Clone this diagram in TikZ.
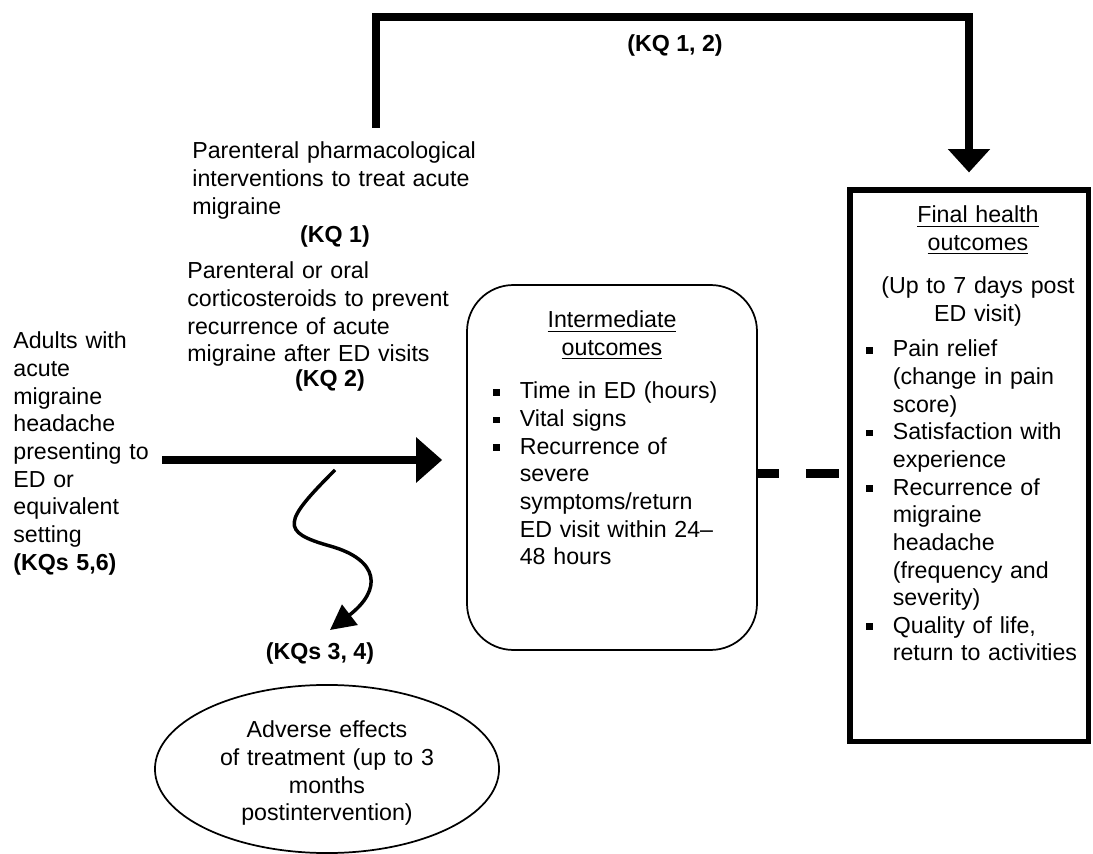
\documentclass[tikz,border=0pt]{standalone}
\usepackage{fontspec}
\setmainfont{Liberation Sans}
\usetikzlibrary{positioning, arrows.meta, shapes.geometric, calc}
\newcommand{\cfitem}[1]{%
  \hangindent=13.7pt\hangafter=1\noindent
  \makebox[13.7pt][l]{\rule[1.8pt]{3.4pt}{3.4pt}}#1\par}

\begin{document}
\begin{tikzpicture}[x=0.5176pt, y=-0.5176pt,
    txt/.style={inner sep=0pt, font=\fontsize{12pt}{14.3pt}\selectfont,
                align=left, text width=#1},
    kq/.style={inner sep=0pt, font=\fontsize{12pt}{14.3pt}\selectfont\bfseries,
               anchor=base},
    roundbox/.style={draw, rounded corners=24pt, line width=0.9pt,
                     minimum width=150.1pt, minimum height=188.9pt},
    finalbox/.style={draw, line width=2.6pt,
                     minimum width=123.2pt, minimum height=285.7pt},
    harmoval/.style={draw, ellipse, line width=0.9pt, inner sep=0pt,
                     minimum width=178.1pt, minimum height=87pt},
    thickarrow/.style={line width=4.6pt, -{Triangle[length=13.5pt, width=22.8pt]}},
    bracketarrow/.style={line width=4.2pt, -{Triangle[length=12pt, width=21pt]}},
    harmarrow/.style={line width=1.8pt, -{Triangle[length=13pt, width=13pt]}},
    dashlink/.style={line width=4.6pt,
                     dash pattern=on 10.9pt off 14pt on 17.1pt off 10pt}]
    \useasboundingbox (0,0) rectangle (1093,854);

    \node[txt=88pt, anchor=base west] (population) at (13,349)
        {Adults with\\acute\\migraine\\headache\\presenting to\\ED or\\equivalent\\setting\\\textbf{(KQs 5,6)}};
    \node[txt=160pt, anchor=base west] (acutetx) at (192,159)
        {Parenteral pharmacological\\interventions to treat acute\\migraine};
    \node[kq] (kq1) at (335,243) {(KQ 1)};
    \node[txt=160pt, anchor=base west] (relapsetx) at (187,279)
        {Parenteral or oral\\corticosteroids to prevent\\recurrence of acute\\migraine after ED visits};
    \node[kq] (kq2) at (330,387) {(KQ 2)};
    \node[kq] (kq12) at (675,52) {(KQ 1, 2)};
    \node[kq] (kq34) at (320,660) {(KQs 3, 4)};

    \node[roundbox] (inter) at (612,467.5) {};
    \node[txt=123.2pt, align=center, anchor=base] (intertitle) at (612,328)
        {\underline{Intermediate}\\\underline{outcomes}};
    \node[txt=123pt, anchor=base west] (interlist) at (493,399)
        {\cfitem{Time in ED (hours)}\cfitem{Vital signs}%
         \cfitem{Recurrence of\newline severe\newline symptoms/return\newline ED visit within 24--\newline 48 hours}};

    \node[finalbox] (final) at (969,466) {};
    \node[txt=115.9pt, align=center, anchor=base] (finaltitle) at (978,223)
        {\underline{Final health}\\\underline{outcomes}};
    \node[txt=115.9pt, align=center, anchor=base] (finalspan) at (978,294)
        {(Up to 7 days post\\ED visit)};
    \node[txt=115.9pt, anchor=base west] (finallist) at (866,357)
        {\cfitem{Pain relief\newline (change in pain\newline score)}%
         \cfitem{Satisfaction with\newline experience}%
         \cfitem{Recurrence of\newline migraine\newline headache\newline (frequency and\newline severity)}%
         \cfitem{Quality of life,\newline return to activities}};

    \node[harmoval] (adverse) at (327,769) {};
    \node[txt=114pt, align=center, anchor=base] (adversetext) at (327,738)
        {Adverse effects\\of treatment (up to 3\\months\\postintervention)};

    \coordinate (popout) at (162,460);
    \coordinate (kqtop) at (376,128);
    \coordinate (kqcorner) at (376,17);
    \coordinate (harmfrom) at (335,470);
    \coordinate (harmto) at (330,630);
    \coordinate (dashfrom) at ($(inter.east)+(0,6)$);

    \draw[thickarrow, shorten >=12.4pt] (popout) -- (popout -| inter.west);
    \draw[bracketarrow, shorten >=7.8pt] (kqtop) -- (kqcorner) -| (final.north);
    \draw[dashlink] (dashfrom) -- (dashfrom -| final.west);
    \draw[harmarrow] (harmfrom) .. controls (283,522) and (280,532) .. (330,546)
        .. controls (380,560) and (382,590) .. (harmto);
\end{tikzpicture}
\end{document}
